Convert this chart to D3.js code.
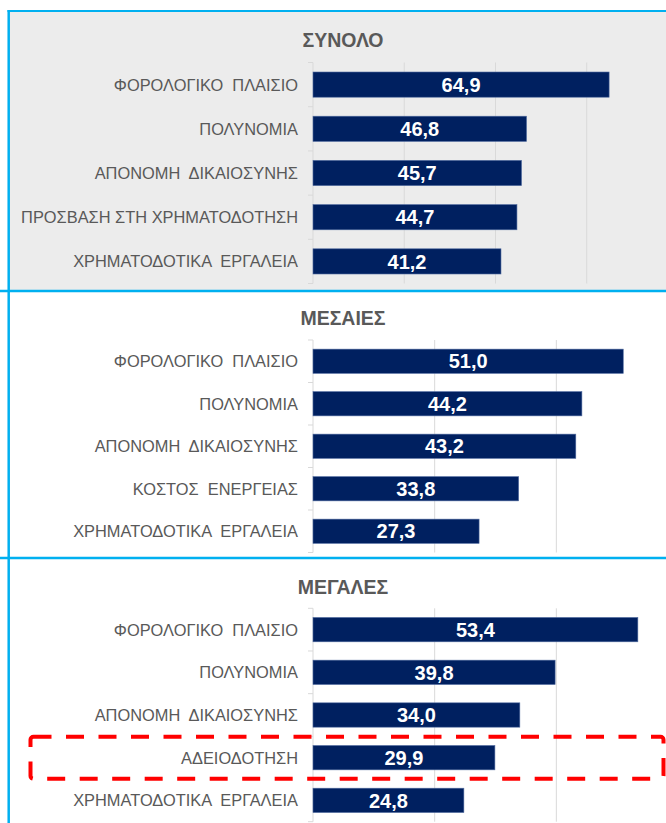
<!DOCTYPE html>
<html>
<head>
<meta charset="utf-8">
<script src="https://cdn.jsdelivr.net/npm/d3@7"></script>
<style>
  html, body { margin: 0; padding: 0; background: #fff; }
  svg { display: block; }
  text { font-family: "Liberation Sans", Arial, sans-serif; white-space: pre; }
</style>
</head>
<body>
<svg width="666" height="823"></svg>
<script>
// Panel titles
const titles = ["ΣΥΝΟΛΟ", "ΜΕΣΑΙΕΣ", "ΜΕΓΑΛΕΣ"];

// Categories per panel
const catsTotal = ["ΦΟΡΟΛΟΓΙΚΟ  ΠΛΑΙΣΙΟ", "ΠΟΛΥΝΟΜΙΑ", "ΑΠΟΝΟΜΗ  ΔΙΚΑΙΟΣΥΝΗΣ", "ΠΡΟΣΒΑΣΗ ΣΤΗ ΧΡΗΜΑΤΟΔΟΤΗΣΗ", "ΧΡΗΜΑΤΟΔΟΤΙΚΑ  ΕΡΓΑΛΕΙΑ"];
const catsMedium = ["ΦΟΡΟΛΟΓΙΚΟ  ΠΛΑΙΣΙΟ", "ΠΟΛΥΝΟΜΙΑ", "ΑΠΟΝΟΜΗ  ΔΙΚΑΙΟΣΥΝΗΣ", "ΚΟΣΤΟΣ  ΕΝΕΡΓΕΙΑΣ", "ΧΡΗΜΑΤΟΔΟΤΙΚΑ  ΕΡΓΑΛΕΙΑ"];
const catsLarge = ["ΦΟΡΟΛΟΓΙΚΟ  ΠΛΑΙΣΙΟ", "ΠΟΛΥΝΟΜΙΑ", "ΑΠΟΝΟΜΗ  ΔΙΚΑΙΟΣΥΝΗΣ", "ΑΔΕΙΟΔΟΤΗΣΗ", "ΧΡΗΜΑΤΟΔΟΤΙΚΑ  ΕΡΓΑΛΕΙΑ"];

// Values per panel
const valsTotal = [64.9, 46.8, 45.7, 44.7, 41.2];
const valsMedium = [51.0, 44.2, 43.2, 33.8, 27.3];
const valsLarge = [53.4, 39.8, 34.0, 29.9, 24.8];

// Axis maxima and gridline ticks
const axisMax = [80, 60, 60];
const gridTicks = [[20, 40, 60, 80], [20, 40, 60], [20, 40, 60]];

// Category highlighted with the dashed box (panel 3)
const highlight = "ΑΔΕΙΟΔΟΤΗΣΗ";

const svg = d3.select("svg");
const blue = "#00b0f0";
const barColor = "#002060";
const textGray = "#595959";
const gridColor = "#d9d9d9";

// layout of each panel
const panels = [
  { cats: catsTotal, vals: valsTotal, bg: "#ececec", top: 12, bottom: 290, titleY: 47, y0: 62.5, y1: 283.5 },
  { cats: catsMedium, vals: valsMedium, bg: "#ffffff", top: 292, bottom: 557, titleY: 325, y0: 340, y1: 552.5 },
  { cats: catsLarge, vals: valsLarge, bg: "#ffffff", top: 559, bottom: 823, titleY: 594, y0: 608.3, y1: 821.7 }
];

const xLeft = 313, xRight = 678;

panels.forEach((p, i) => {
  const g = svg.append("g");

  g.append("rect")
    .attr("x", 10).attr("y", p.top)
    .attr("width", 656).attr("height", p.bottom - p.top)
    .attr("fill", p.bg);

  const x = d3.scaleLinear().domain([0, axisMax[i]]).range([xLeft, xRight]);
  const y = d3.scaleBand().domain(p.cats).range([p.y0, p.y1])
    .paddingInner(0.43).paddingOuter(0.215);

  // gridlines
  g.selectAll(".grid").data(gridTicks[i]).enter().append("line")
    .attr("x1", d => x(d)).attr("x2", d => x(d))
    .attr("y1", p.y0).attr("y2", p.y1)
    .attr("stroke", gridColor).attr("stroke-width", 1);

  // category axis line and tick marks at band boundaries
  g.append("line")
    .attr("x1", xLeft).attr("x2", xLeft).attr("y1", p.y0).attr("y2", p.y1)
    .attr("stroke", gridColor);
  const bounds = d3.range(p.cats.length + 1).map(k => p.y0 + k * y.step());
  g.selectAll(".tk").data(bounds).enter().append("line")
    .attr("x1", xLeft - 5).attr("x2", xLeft)
    .attr("y1", d => d).attr("y2", d => d)
    .attr("stroke", gridColor);

  // bars
  const rows = p.cats.map((c, k) => ({ cat: c, val: p.vals[k] }));
  g.selectAll(".bar").data(rows).enter().append("rect")
    .attr("x", x(0))
    .attr("y", d => y(d.cat))
    .attr("width", d => x(d.val) - x(0))
    .attr("height", y.bandwidth())
    .attr("fill", barColor)
    .attr("stroke", "#4f6a9f").attr("stroke-width", 0.6);

  // value labels
  g.selectAll(".val").data(rows).enter().append("text")
    .attr("x", d => (x(0) + x(d.val)) / 2)
    .attr("y", d => y(d.cat) + y.bandwidth() / 2)
    .attr("dy", "0.36em")
    .attr("text-anchor", "middle")
    .attr("font-size", 20).attr("font-weight", "bold")
    .attr("fill", "#ffffff")
    .text(d => d3.format(".1f")(d.val).replace(".", ","));

  // category labels
  g.selectAll(".cat").data(rows).enter().append("text")
    .attr("x", 298)
    .attr("y", d => y(d.cat) + y.bandwidth() / 2)
    .attr("dy", "0.36em")
    .attr("text-anchor", "end")
    .attr("font-size", 16.4)
    .attr("fill", textGray)
    .text(d => d.cat);

  // title
  g.append("text")
    .attr("x", 343).attr("y", p.titleY)
    .attr("text-anchor", "middle")
    .attr("font-size", 19.5).attr("font-weight", "bold")
    .attr("fill", textGray)
    .text(titles[i]);

  // dashed highlight box
  if (p.cats.includes(highlight)) {
    const cy = y(highlight) + y.bandwidth() / 2;
    g.append("rect")
      .attr("x", 30.5).attr("y", cy - 21)
      .attr("width", 633).attr("height", 42)
      .attr("rx", 3)
      .attr("fill", "none")
      .attr("stroke", "#ff0000").attr("stroke-width", 4)
      .attr("stroke-dasharray", "18,14.5");
  }
});

// blue frame lines
const frame = svg.append("g").attr("stroke", blue);
frame.append("line").attr("x1", 8.7).attr("x2", 8.7).attr("y1", 10).attr("y2", 823).attr("stroke-width", 2.5);
frame.append("line").attr("x1", 7.5).attr("x2", 666).attr("y1", 11).attr("y2", 11).attr("stroke-width", 2);
frame.append("line").attr("x1", 0).attr("x2", 666).attr("y1", 291).attr("y2", 291).attr("stroke-width", 2.5);
frame.append("line").attr("x1", 0).attr("x2", 666).attr("y1", 558).attr("y2", 558).attr("stroke-width", 2.5);
</script>
</body>
</html>
